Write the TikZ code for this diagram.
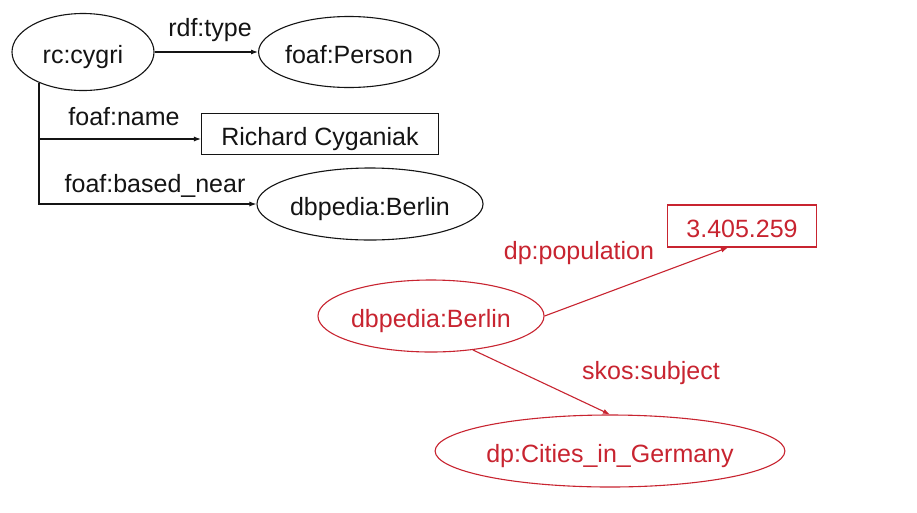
\documentclass[tikz,border=0pt]{standalone}
\usepackage{fontspec}
\setmainfont{Liberation Sans}
\usetikzlibrary{shapes.geometric,arrows.meta}
\definecolor{rdfred}{RGB}{200,36,48}
\definecolor{ink}{RGB}{20,20,20}
\tikzset{
  base/.style={font=\fontsize{25}{28}\selectfont, inner sep=0pt, line width=1.1pt, text height=22pt, text depth=0pt},
  res/.style={base, ellipse, draw},
  lit/.style={base, rectangle, draw},
  lbl/.style={font=\fontsize{25}{28}\selectfont, inner sep=0pt},
  link/.style={line width=1.1pt, -{Latex[length=7pt,width=5pt]}},
}
\begin{document}
\begin{tikzpicture}[x=1pt,y=-1pt]
\useasboundingbox[fill=white] (0,0) rectangle (917,512);
\begin{scope}[color=ink]
\node[res, minimum width=142pt, minimum height=77pt] (cygri) at (83,52) {rc:cygri};
\node[res, minimum width=172pt, minimum height=71pt] (person) at (349,52) {foaf:Person};
\node[lit, minimum width=237pt, minimum height=41pt] (name) at (320,134) {Richard Cyganiak};
\node[res, minimum width=204pt, minimum height=72pt] (berlinA) at (370,204) {dbpedia:Berlin};
\coordinate (spine) at (40,139);
\draw[link] (cygri.east) -- (person.west);
\draw[link] (cygri.215.8) |- (berlinA.west);
\draw[link] (spine) -- (name.west |- spine);
\node[lbl] (ltype) at (210,30) {rdf:type};
\node[lbl] (lname) at (124,117) {foaf:name};
\node[lbl] (lnear) at (155,186) {foaf:based\_near};
\end{scope}
\begin{scope}[color=rdfred, text=rdfred]
\node[res, draw=rdfred, minimum width=205pt, minimum height=72pt] (berlinB) at (431,316) {dbpedia:Berlin};
\node[lit, draw=rdfred, minimum width=149pt, minimum height=42pt] (pop) at (742,226) {3.405.259};
\node[res, draw=rdfred, minimum width=265pt, minimum height=72pt] (cities) at (610,451) {dp:Cities\_in\_Germany};
\coordinate (popin) at ([xshift=-14pt]pop.south);
\draw[link, rdfred] (berlinB.east) -- (popin);
\draw[link, rdfred] (berlinB.-39) -- (cities.north);
\node[lbl, text=rdfred] (lpop) at (579,253) {dp:population};
\node[lbl, text=rdfred] (lsubj) at (651,373) {skos:subject};
\end{scope}
\end{tikzpicture}
\end{document}
